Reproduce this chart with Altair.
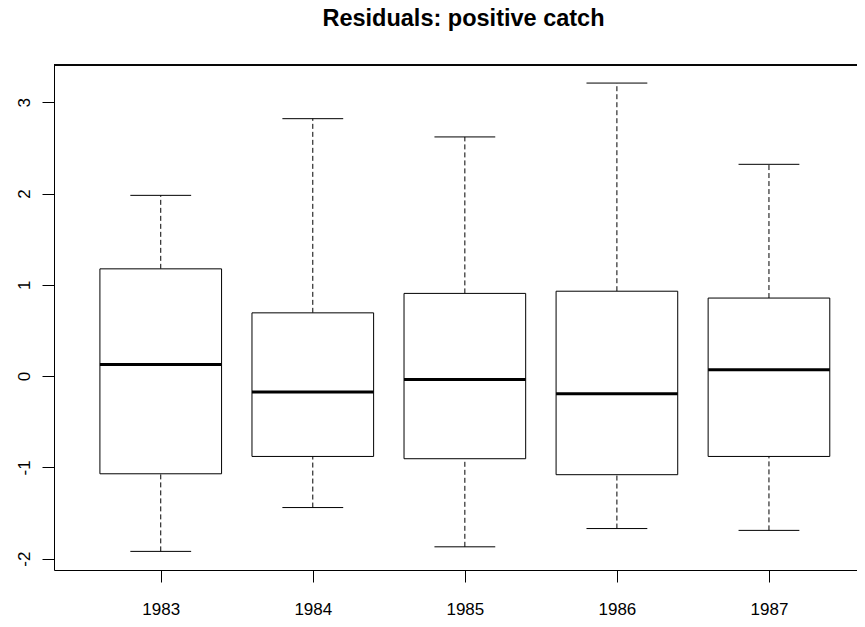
import altair as alt
import pandas as pd

years = ["1983", "1984", "1985", "1986", "1987"]
lower = [-1.92, -1.44, -1.87, -1.67, -1.69]
q1 = [-1.07, -0.88, -0.905, -1.08, -0.88]
median = [0.128, -0.175, -0.036, -0.194, 0.069]
q3 = [1.175, 0.693, 0.906, 0.93, 0.855]
upper = [1.98, 2.82, 2.62, 3.21, 2.32]
y_ticks = [-2, -1, 0, 1, 2, 3]

df = pd.DataFrame({
    "year": years,
    "pos": list(range(1, len(years) + 1)),
    "lower": lower, "q1": q1, "median": median, "q3": q3, "upper": upper,
})

W, H = 803, 505
FONT = "Liberation Sans"

xs = alt.Scale(domain=[0.298, 5.579], nice=False, zero=False)
ys = alt.Scale(domain=[-2.124, 3.408], nice=False, zero=False)

label_expr = "[" + ",".join("'%s'" % y for y in years) + "][datum.value - 1]"

x_axis = alt.Axis(values=list(range(1, len(years) + 1)), labelExpr=label_expr, title=None,
                  grid=False, tickSize=12, labelFontSize=17, labelFont=FONT, labelColor="black",
                  tickColor="black", domainColor="black", labelBaseline="alphabetic",
                  labelPadding=32, labelFlush=False, labelOverlap=False)
y_axis = alt.Axis(values=y_ticks, labelExpr="'' + datum.value", title=None, grid=False,
                  tickSize=12, labelFontSize=17,
                  labelFont=FONT, labelColor="black", tickColor="black", domainColor="black",
                  labelAngle=-90, labelAlign="center", labelBaseline="alphabetic",
                  labelPadding=13, labelFlush=False, labelOverlap=False)

base = alt.Chart(df).transform_calculate(
    bl="datum.pos - 0.4", br="datum.pos + 0.4",
    cl="datum.pos - 0.2", cr="datum.pos + 0.2",
)

dash = [5, 3]
whisk_up = base.mark_rule(color="black", strokeDash=dash, strokeWidth=1).encode(
    x=alt.X("pos:Q", scale=xs, axis=x_axis),
    y=alt.Y("q3:Q", scale=ys, axis=y_axis),
    y2="upper:Q",
)
whisk_lo = base.mark_rule(color="black", strokeDash=dash, strokeWidth=1).encode(
    x=alt.X("pos:Q", scale=xs, axis=x_axis),
    y=alt.Y("lower:Q", scale=ys, axis=y_axis),
    y2="q1:Q",
)
cap_up = base.mark_rule(color="black", strokeWidth=1).encode(
    x=alt.X("cl:Q", scale=xs, axis=x_axis), x2="cr:Q",
    y=alt.Y("upper:Q", scale=ys, axis=y_axis),
)
cap_lo = base.mark_rule(color="black", strokeWidth=1).encode(
    x=alt.X("cl:Q", scale=xs, axis=x_axis), x2="cr:Q",
    y=alt.Y("lower:Q", scale=ys, axis=y_axis),
)
box = base.mark_rect(fill="white", stroke="black", strokeWidth=1).encode(
    x=alt.X("bl:Q", scale=xs, axis=x_axis), x2="br:Q",
    y=alt.Y("q1:Q", scale=ys, axis=y_axis), y2="q3:Q",
)
med = base.mark_rule(color="black", strokeWidth=3).encode(
    x=alt.X("bl:Q", scale=xs, axis=x_axis), x2="br:Q",
    y=alt.Y("median:Q", scale=ys, axis=y_axis),
)
top_line = alt.Chart(df).mark_rule(color="black", strokeWidth=1).encode(
    x=alt.value(0), x2=alt.value(W), y=alt.value(0)
)

chart = alt.layer(whisk_up, whisk_lo, box, med, cap_up, cap_lo, top_line).properties(
    width=W, height=H,
    title=alt.TitleParams("Residuals: positive catch", fontSize=23.5, font=FONT,
                          fontWeight="bold", anchor="middle", dx=8, offset=34,
                          color="black"),
    padding={"left": 46, "top": 57, "right": 0, "bottom": 49},
    autosize=alt.AutoSizeParams(type="none"),
).configure_view(stroke=None).configure_axis(domainWidth=1, tickWidth=1)

chart.save("out.html", embed_options={"renderer": "svg", "actions": False})
